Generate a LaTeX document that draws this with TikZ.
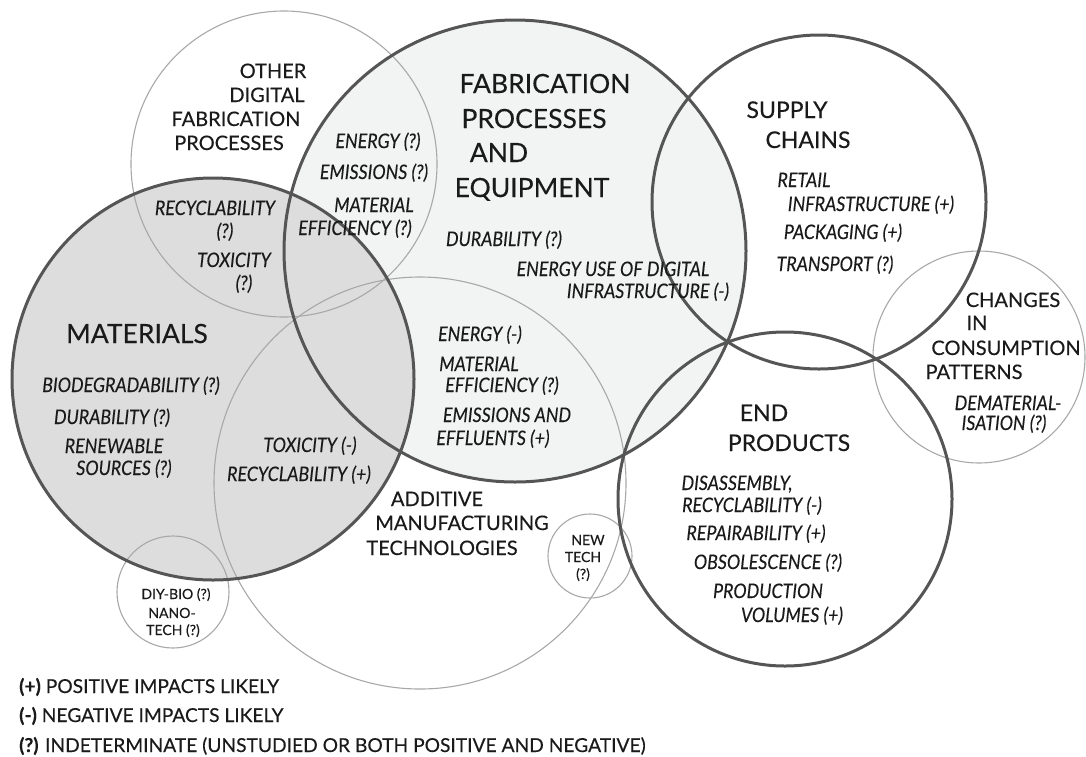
\documentclass[tikz,border=0pt]{standalone}
\usepackage{fontspec}
\usepackage{xcolor}
\usepackage{tikz}
\setmainfont{Lato}[FakeBold=0.3]
\newfontfamily\itemfont{Lato}[FakeStretch=0.89, FakeBold=0.3]

\definecolor{matfill}{HTML}{DDDDDD}
\definecolor{fabfill}{HTML}{F2F4F3}
\definecolor{ringgray}{HTML}{555555}
\definecolor{thingray}{HTML}{A8A8A8}
\definecolor{ink}{HTML}{1A1A1A}

\tikzset{
  ring/.style={draw=ringgray, line width=3pt},
  thinring/.style={draw=thingray, line width=1.1pt},
  bigtitle/.style={font=\fontsize{26.5}{30}\selectfont, anchor=base, text=ink},
  title/.style={font=\fontsize{23}{27}\selectfont, anchor=base, text=ink},
  subtitle/.style={font=\fontsize{20}{24}\selectfont, anchor=base, text=ink},
  impact/.style={font=\itemfont\itshape\fontsize{20}{24}\selectfont, anchor=base, text=ink},
  smalltext/.style={font=\fontsize{14}{16}\selectfont, anchor=base, text=ink},
  legend/.style={font=\fontsize{19.2}{23}\selectfont, anchor=base west, text=ink},
}

\begin{document}
\begin{tikzpicture}[x=1pt,y=-1pt]
\tikzstyle{every node}+=[inner sep=0pt]
\useasboundingbox (0,0) rectangle (1086,756);

% circle centres
\coordinate (mat) at (213,379);
\coordinate (fab) at (515,251);
\coordinate (oth) at (284,164);
\coordinate (add) at (420,483);
\coordinate (sup) at (819,202);
\coordinate (chg) at (979,357);
\coordinate (endp) at (785,499);
\coordinate (diy) at (173,592);
\coordinate (new) at (590,556);

% fills
\fill [fabfill] (fab) circle (231);
\fill [matfill] (mat) circle (201);

% outlines
\draw [thinring] (oth) circle (153);
\draw [thinring] (add) circle (206);
\draw [thinring] (chg) circle (106);
\draw [thinring] (diy) circle (56);
\draw [thinring] (new) circle (42);
\draw [ring] (fab) circle (231);
\draw [ring] (mat) circle (201);
\draw [ring] (sup) circle (167);
\draw [ring] (endp) circle (167);

% other digital fabrication processes
\node [subtitle] (oth1) at (273,78) {OTHER};
\node [subtitle] (oth2) at (267,102) {DIGITAL};
\node [subtitle] (oth3) at (236,126) {FABRICATION};
\node [subtitle] (oth4) at (229,150) {PROCESSES};
\node [impact] (oth5) at (378,148) {ENERGY (?)};
\node [impact] (oth6) at (374,179) {EMISSIONS (?)};
\node [impact] (oth7) at (374,212) {MATERIAL};
\node [impact] (oth8) at (355,235) {EFFICIENCY (?)};
\node [impact] (oth9) at (215,215) {RECYCLABILITY};
\node [impact] (oth10) at (225,238) {(?)};
\node [impact] (oth11) at (234,267) {TOXICITY};
\node [impact] (oth12) at (244,290) {(?)};

% materials
\node [bigtitle] (mat1) at (137,343) {MATERIALS};
\node [impact] (mat2) at (131,392) {BIODEGRADABILITY (?)};
\node [impact] (mat3) at (112,424) {DURABILITY (?)};
\node [impact] (mat4) at (114,453) {RENEWABLE};
\node [impact] (mat5) at (124,475) {SOURCES (?)};
\node [impact] (mat6) at (310,452) {TOXICITY (-)};
\node [impact] (mat7) at (299,481) {RECYCLABILITY (+)};

% fabrication processes and equipment
\node [bigtitle] (fab1) at (545,93) {FABRICATION};
\node [bigtitle] (fab2) at (534,128) {PROCESSES};
\node [bigtitle] (fab3) at (499,162) {AND};
\node [bigtitle] (fab4) at (532,197) {EQUIPMENT};
\node [impact] (fab5) at (504,246) {DURABILITY (?)};
\node [impact] (fab6) at (613,276) {ENERGY USE OF DIGITAL};
\node [impact] (fab7) at (648,298) {INFRASTRUCTURE (-)};
\node [impact] (fab8) at (480,341) {ENERGY (-)};
\node [impact] (fab9) at (479,371) {MATERIAL};
\node [impact] (fab10) at (502,392) {EFFICIENCY (?)};
\node [impact] (fab11) at (507,422) {EMISSIONS AND};
\node [impact] (fab12) at (493,445) {EFFLUENTS (+)};

% additive manufacturing
\node [subtitle] (add1) at (437,506) {ADDITIVE};
\node [subtitle] (add2) at (462,530) {MANUFACTURING};
\node [subtitle] (add3) at (442,555) {TECHNOLOGIES};

% small circles
\node [smalltext] (diy1) at (176,599) {DIY-BIO (?)};
\node [smalltext] (diy2) at (172,618) {NANO-};
\node [smalltext] (diy3) at (173,635) {TECH (?)};
\node [smalltext] (new1) at (588,545) {NEW};
\node [smalltext] (new2) at (583,562) {TECH};
\node [smalltext] (new3) at (583,579) {(?)};

% supply chains
\node [title] (sup1) at (787,118) {SUPPLY};
\node [title] (sup2) at (808,148) {CHAINS};
\node [impact] (sup3) at (804,187) {RETAIL};
\node [impact] (sup4) at (871,211) {INFRASTRUCTURE (+)};
\node [impact] (sup5) at (843,239) {PACKAGING (+)};
\node [impact] (sup6) at (835,271) {TRANSPORT (?)};

% changes in consumption patterns
\node [subtitle] (chg1) at (1013,307) {CHANGES};
\node [subtitle] (chg2) at (977,330) {IN};
\node [subtitle] (chg3) at (1006,355) {CONSUMPTION};
\node [subtitle] (chg4) at (974,379) {PATTERNS};
\node [impact] (chg5) at (1008,410) {DEMATERIAL-};
\node [impact] (chg6) at (1004,430) {ISATION (?)};

% end products
\node [title] (end1) at (764,421) {END};
\node [title] (end2) at (789,451) {PRODUCTS};
\node [impact] (end3) at (737,490) {DISASSEMBLY,};
\node [impact] (end4) at (752,512) {RECYCLABILITY (-)};
\node [impact] (end5) at (756,540) {REPAIRABILITY (+)};
\node [impact] (end6) at (768,569) {OBSOLESCENCE (?)};
\node [impact] (end7) at (768,598) {PRODUCTION};
\node [impact] (end8) at (792,622) {VOLUMES (+)};

% legend
\node [legend] (leg1) at (19,693) {\textbf{(+)} POSITIVE IMPACTS LIKELY};
\node [legend] (leg2) at (19,722) {\textbf{(-)} NEGATIVE IMPACTS LIKELY};
\node [legend] (leg3) at (19,752) {\textbf{(?)} INDETERMINATE (UNSTUDIED OR BOTH POSITIVE AND NEGATIVE)};
\end{tikzpicture}
\end{document}
